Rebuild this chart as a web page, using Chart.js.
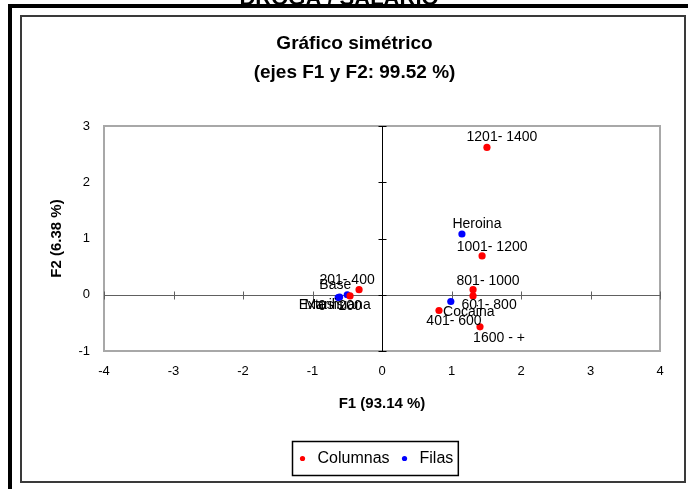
<!DOCTYPE html>
<html>
<head>
<meta charset="utf-8">
<title>Gráfico simétrico</title>
<script src="https://cdn.jsdelivr.net/npm/chart.js@4.4.1/dist/chart.umd.min.js"></script>
<style>
  html, body { margin: 0; padding: 0; background: #fff; }
</style>
</head>
<body>
<canvas id="myChart" width="688" height="489"></canvas>
<script>
// Columnas (salario)
const colLabels = ['0 - 200', '201- 400', '401- 600', '601- 800', '801- 1000', '1001- 1200', '1201- 1400', '1600 - +'];
const colF1 = [-0.46, -0.33, 0.82, 1.31, 1.31, 1.44, 1.51, 1.41];
const colF2 = [-0.02, 0.09, -0.28, -0.02, 0.09, 0.69, 2.62, -0.57];

// Filas (droga)
const rowLabels = ['Heroina', 'Cocaina', 'Base', 'Extasis', 'Marihuana'];
const rowF1 = [1.15, 0.99, -0.50, -0.63, -0.61];
const rowF2 = [1.08, -0.12, 0.00, -0.05, -0.04];

const seriesNames = ['Columnas', 'Filas'];
const chartTitle = ['Gráfico simétrico', '(ejes F1 y F2: 99.52 %)'];
const topTitle = 'DROGA / SALARIO';
const xTitle = 'F1 (93.14 %)';
const yTitle = 'F2 (6.38 %)';

// where each point label sits relative to its point, in px (dx, dy of text centre)
const colLabelShift = [[-10, 10], [-12, -10], [15, 11], [16, 9], [15, -9], [10, -9], [15, -10], [19, 11]];
const rowLabelShift = [[15, -10], [18, 11], [-12, -10], [-17, 8], [-2, 8]];

const FONT = "'Liberation Sans', Arial, sans-serif";
Chart.defaults.font.family = FONT;
Chart.defaults.color = '#000';

function toPoints(xs, ys) {
    return xs.map((x, i) => ({ x: x, y: ys[i] }));
}

// white page, double frame and the cut off heading at the very top
const framePlugin = {
    id: 'frame',
    beforeDraw(chart) {
        const ctx = chart.ctx;
        ctx.save();
        ctx.fillStyle = '#fff';
        ctx.fillRect(0, 0, chart.width, chart.height);
        ctx.fillStyle = '#000';
        ctx.font = 'bold 22px ' + FONT;
        ctx.textAlign = 'center';
        ctx.textBaseline = 'alphabetic';
        ctx.fillText(topTitle, 339, 5);
        ctx.fillRect(8, 4, chart.width - 8, 4);
        ctx.fillRect(8, 4, 4, chart.height - 4);
        ctx.strokeStyle = '#3a3a3a';
        ctx.lineWidth = 2;
        ctx.strokeRect(21, 16, 664, 466);
        ctx.restore();
    }
};

// plot border and the two axes crossing at zero, with cross tick marks
const axesPlugin = {
    id: 'zeroAxes',
    beforeDatasetsDraw(chart) {
        const ctx = chart.ctx;
        const a = chart.chartArea;
        const xs = chart.scales.x, ys = chart.scales.y;
        const x0 = Math.round(xs.getPixelForValue(0)) + 0.5;
        const y0 = Math.round(ys.getPixelForValue(0)) + 0.5;
        ctx.save();
        ctx.strokeStyle = '#a8a8a8';
        ctx.lineWidth = 2;
        ctx.strokeRect(a.left, a.top, a.right - a.left, a.bottom - a.top);

        ctx.lineWidth = 1;
        ctx.strokeStyle = '#606060';
        ctx.beginPath();
        ctx.moveTo(a.left, y0);
        ctx.lineTo(a.right, y0);
        xs.ticks.forEach(t => {
            const px = Math.round(xs.getPixelForValue(t.value)) + 0.5;
            ctx.moveTo(px, y0 - 4);
            ctx.lineTo(px, y0 + 4);
        });
        ctx.stroke();

        ctx.strokeStyle = '#000';
        ctx.beginPath();
        ctx.moveTo(x0, a.top);
        ctx.lineTo(x0, a.bottom);
        ys.ticks.forEach(t => {
            const py = Math.round(ys.getPixelForValue(t.value)) + 0.5;
            ctx.moveTo(x0 - 4, py);
            ctx.lineTo(x0 + 4, py);
        });
        ctx.stroke();
        ctx.restore();
    }
};

// text next to every point
const pointLabelPlugin = {
    id: 'pointLabels',
    afterDatasetsDraw(chart) {
        const ctx = chart.ctx;
        const names = [colLabels, rowLabels];
        const shifts = [colLabelShift, rowLabelShift];
        ctx.save();
        ctx.font = '14px ' + FONT;
        ctx.fillStyle = '#000';
        ctx.textAlign = 'center';
        ctx.textBaseline = 'middle';
        chart.data.datasets.forEach((ds, d) => {
            chart.getDatasetMeta(d).data.forEach((pt, i) => {
                const s = shifts[d][i];
                ctx.fillText(names[d][i], pt.x + s[0], pt.y + s[1]);
            });
        });
        ctx.restore();
    }
};

// boxed legend under the x axis title
const legendPlugin = {
    id: 'boxLegend',
    afterDraw(chart) {
        const ctx = chart.ctx;
        const a = chart.chartArea;
        const ds = chart.data.datasets;
        ctx.save();
        ctx.font = '16px ' + FONT;
        const widths = ds.map(d => ctx.measureText(d.label).width);
        const pad = 10, toText = 15, gap = 15, padR = 5;
        let total = pad + padR;
        widths.forEach((w, i) => { total += toText + w + (i ? gap : 0); });
        const left = Math.round((a.left + a.right) / 2 - 7 - total / 2) + 0.5;
        const top = Math.round(chart.scales.x.bottom + 20) + 0.5;
        const h = 34;
        ctx.strokeStyle = '#000';
        ctx.lineWidth = 1.5;
        ctx.strokeRect(left, top, total, h);
        let cx = left + pad;
        const cy = top + h / 2;
        ctx.textBaseline = 'middle';
        ctx.textAlign = 'left';
        ds.forEach((d, i) => {
            if (i) cx += gap;
            ctx.fillStyle = d.backgroundColor;
            ctx.beginPath();
            ctx.arc(cx, cy, 2.6, 0, Math.PI * 2);
            ctx.fill();
            ctx.fillStyle = '#000';
            ctx.fillText(d.label, cx + toText, cy);
            cx += toText + widths[i];
        });
        ctx.restore();
    }
};

const ctx = document.getElementById('myChart').getContext('2d');
const myChart = new Chart(ctx, {
    type: 'scatter',
    data: {
        datasets: [{
            label: seriesNames[0],
            data: toPoints(colF1, colF2),
            backgroundColor: '#ff0000',
            borderColor: '#ff0000',
            pointRadius: 3.6,
            pointBorderWidth: 0
        }, {
            label: seriesNames[1],
            data: toPoints(rowF1, rowF2),
            backgroundColor: '#0000ff',
            borderColor: '#0000ff',
            pointRadius: 3.6,
            pointBorderWidth: 0
        }]
    },
    options: {
        responsive: false,
        animation: false,
        layout: { padding: { left: 21, right: 0, top: 0, bottom: 68 } },
        plugins: {
            legend: { display: false },
            tooltip: { enabled: false },
            title: {
                display: true,
                text: chartTitle,
                color: '#000',
                font: { size: 19, weight: 'bold', lineHeight: 1.5 },
                padding: { top: 30, bottom: 39 }
            }
        },
        scales: {
            x: {
                type: 'linear',
                min: -4,
                max: 4,
                ticks: { stepSize: 1, padding: 13, color: '#000', font: { size: 13 } },
                grid: { display: false, drawTicks: false },
                border: { display: false },
                title: {
                    display: true,
                    text: xTitle,
                    color: '#000',
                    font: { size: 15, weight: 'bold' },
                    padding: { top: 0, bottom: 8 }
                },
                afterFit: s => { s.height = 70; }
            },
            y: {
                type: 'linear',
                position: 'left',
                min: -1,
                max: 3,
                ticks: { stepSize: 1, padding: 14, color: '#000', font: { size: 13 } },
                grid: { display: false, drawTicks: false },
                border: { display: false },
                title: {
                    display: true,
                    text: yTitle,
                    color: '#000',
                    font: { size: 15, weight: 'bold' },
                    padding: { top: 27, bottom: 0 }
                },
                afterFit: s => { s.width = 83; }
            },
            yR: {
                type: 'linear',
                position: 'right',
                grid: { display: false, drawTicks: false },
                border: { display: false },
                ticks: { display: false },
                afterFit: s => { s.width = 28; }
            }
        }
    },
    plugins: [framePlugin, axesPlugin, pointLabelPlugin, legendPlugin]
});
</script>
</body>
</html>
